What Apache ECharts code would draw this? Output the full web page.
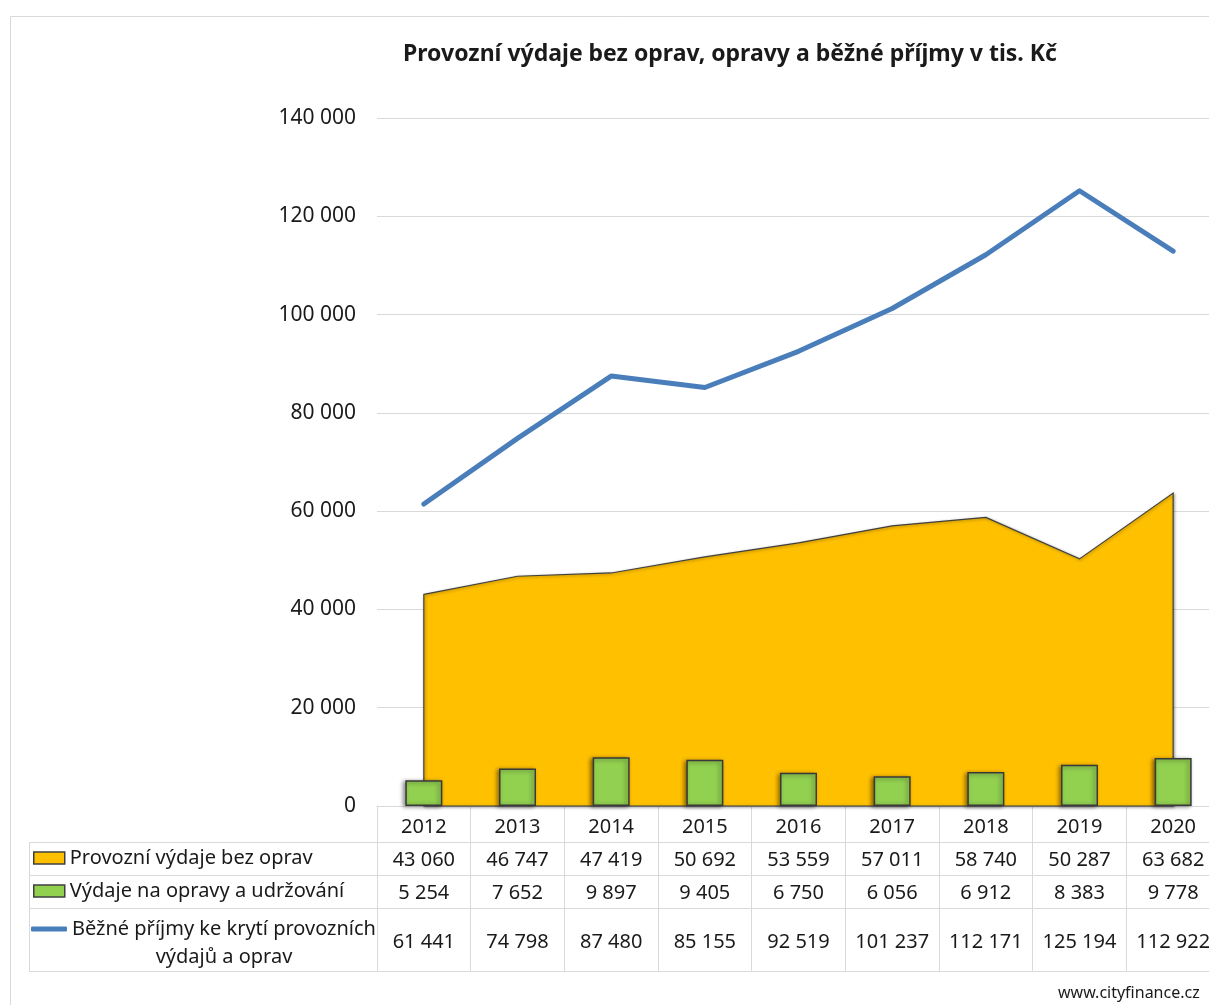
<!DOCTYPE html>
<html>
<head>
<meta charset="utf-8">
<title>Provozní výdaje</title>
<script src="https://cdn.jsdelivr.net/npm/echarts@6/dist/echarts.min.js"></script>
<style>
  html, body { margin: 0; padding: 0; background: #fff; overflow: hidden; }
  #chart { width: 1230px; height: 1005px; }
</style>
</head>
<body>
<div id="chart"></div>
<script>
// data (tis. Kč)
const years = ['2012', '2013', '2014', '2015', '2016', '2017', '2018', '2019', '2020']
const provozni = [43060, 46747, 47419, 50692, 53559, 57011, 58740, 50287, 63682]
const opravy = [5254, 7652, 9897, 9405, 6750, 6056, 6912, 8383, 9778]
const prijmy = [61441, 74798, 87480, 85155, 92519, 101237, 112171, 125194, 112922]

const nameProvozni = 'Provozní výdaje bez oprav'
const nameOpravy = 'Výdaje na opravy a udržování'
const namePrijmy = 'Běžné příjmy ke krytí provozních výdajů a oprav'

const FONT = 'Noto Sans'
const GRID_LINE = '#d9d9d9'
const TXT = '#1a1a1a'

// 43060 -> "43 060"
const fmt = (v) => String(v).replace(/\B(?=(\d{3})+(?!\d))/g, ' ')

// one extra category axis per table row, sharing the plot's columns
const rowAxis = (offset, margin, values) => ({
  type: 'category',
  data: years,
  gridIndex: 0,
  position: 'bottom',
  offset: offset,
  axisLine: {show: true, lineStyle: {color: GRID_LINE, width: 1}},
  axisTick: {show: false},
  axisLabel: {
    show: !!values,
    margin: margin,
    verticalAlign: 'middle',
    interval: 0,
    fontFamily: FONT,
    fontSize: 20,
    color: TXT,
    formatter: (val, idx) => values ? fmt(values[idx]) : ''
  }
})

const chart = echarts.init(document.getElementById('chart'))

const option = {
  backgroundColor: '#fff',
  animation: false,
  textStyle: {fontFamily: FONT},
  title: {
    text: 'Provozní výdaje bez oprav, opravy a běžné příjmy v tis. Kč',
    left: 398,
    top: 38,
    textStyle: {fontFamily: FONT, fontSize: 23, fontWeight: 'bold', color: TXT}
  },
  grid: {left: 377, top: 118, width: 843, height: 688, outerBoundsMode: 'none', containLabel: false},
  legend: [
    {
      data: [{name: nameProvozni, icon: 'rect', itemStyle: {color: '#FFC000', borderColor: '#404040', borderWidth: 1.5}}],
      left: 33, top: 848, padding: 0,
      itemWidth: 31, itemHeight: 12, itemGap: 4,
      textStyle: {fontSize: 20, color: TXT, fontFamily: FONT}
    },
    {
      data: [{name: nameOpravy, icon: 'rect', itemStyle: {color: '#92D050', borderColor: '#404040', borderWidth: 1.5}}],
      left: 33, top: 881, padding: 0,
      itemWidth: 31, itemHeight: 12, itemGap: 4,
      textStyle: {fontSize: 20, color: TXT, fontFamily: FONT}
    },
    {
      data: [{name: namePrijmy, icon: 'roundRect', itemStyle: {color: '#4A7EBB', borderWidth: 0}}],
      left: 31, top: 887, padding: 0,
      itemWidth: 36, itemHeight: 5, itemGap: 3,
      formatter: () => '{a|Běžné příjmy ke krytí provozních}\n{b|výdajů a oprav}',
      textStyle: {
        fontSize: 20, color: TXT, fontFamily: FONT, lineHeight: 28,
        padding: [28, 0, 0, 0],
        rich: {
          a: {fontSize: 20, color: TXT, fontFamily: FONT, lineHeight: 28},
          b: {fontSize: 20, color: TXT, fontFamily: FONT, lineHeight: 28, align: 'center'}
        }
      }
    }
  ],
  xAxis: [
    {
      type: 'category',
      data: years,
      position: 'bottom',
      axisLine: {show: true, lineStyle: {color: GRID_LINE, width: 1}},
      axisTick: {show: true, inside: false, length: 165, interval: 0, lineStyle: {color: GRID_LINE}},
      axisLabel: {margin: 21, verticalAlign: 'middle', fontFamily: FONT, fontSize: 20, color: TXT, interval: 0}
    },
    rowAxis(36, 18, provozni),
    rowAxis(69, 18, opravy),
    rowAxis(102, 34, prijmy),
    rowAxis(165, 0, null)
  ],
  yAxis: {
    type: 'value',
    min: 0,
    max: 140000,
    interval: 20000,
    axisLine: {show: false},
    axisTick: {show: false},
    splitLine: {lineStyle: {color: GRID_LINE, width: 1}},
    axisLabel: {
      margin: 21,
      fontFamily: FONT,
      fontSize: 21,
      color: TXT,
      formatter: (v) => fmt(v)
    }
  },
  series: [
    {
      name: nameProvozni,
      type: 'custom',
      z: 1,
      itemStyle: {color: '#FFC000', borderColor: '#404040'},
      data: [[0, 0]],
      renderItem: (params, api) => {
        const pts = provozni.map((v, i) => api.coord([i, v]))
        pts.push(api.coord([provozni.length - 1, 0]))
        pts.push(api.coord([0, 0]))
        return {
          type: 'polygon',
          shape: {points: pts},
          style: {
            fill: '#FFC000',
            stroke: '#404040',
            lineWidth: 1.2,
            shadowColor: 'rgba(0,0,0,0.35)',
            shadowBlur: 3,
            shadowOffsetX: 1,
            shadowOffsetY: 1
          }
        }
      }
    },
    {
      name: nameOpravy,
      type: 'bar',
      z: 2,
      barWidth: 37,
      data: opravy,
      itemStyle: {
        color: '#92D050',
        borderColor: '#3a3a3a',
        borderWidth: 1.5,
        shadowColor: 'rgba(0,0,0,0.45)',
        shadowBlur: 4,
        shadowOffsetX: -2,
        shadowOffsetY: 1
      }
    },
    {
      name: namePrijmy,
      type: 'line',
      z: 3,
      data: prijmy,
      symbol: 'none',
      showSymbol: false,
      color: '#4A7EBB',
      lineStyle: {color: '#4A7EBB', width: 5, cap: 'round', join: 'round'}
    }
  ],
  graphic: [
    // outer chart frame
    {type: 'rect', shape: {x: 10.5, y: 16.5, width: 1300, height: 1100}, style: {fill: null, stroke: GRID_LINE, lineWidth: 1}, silent: true, z: -10},
    // legend column of the data table
    {type: 'line', shape: {x1: 29, y1: 842.5, x2: 377, y2: 842.5}, style: {stroke: GRID_LINE, lineWidth: 1}},
    {type: 'line', shape: {x1: 29, y1: 875.5, x2: 377, y2: 875.5}, style: {stroke: GRID_LINE, lineWidth: 1}},
    {type: 'line', shape: {x1: 29, y1: 908.5, x2: 377, y2: 908.5}, style: {stroke: GRID_LINE, lineWidth: 1}},
    {type: 'line', shape: {x1: 29, y1: 971.5, x2: 377, y2: 971.5}, style: {stroke: GRID_LINE, lineWidth: 1}},
    {type: 'line', shape: {x1: 29.5, y1: 842, x2: 29.5, y2: 972}, style: {stroke: GRID_LINE, lineWidth: 1}},
    {
      type: 'text', left: 1058, top: 985,
      style: {text: 'www.cityfinance.cz', fontFamily: FONT, fontSize: 16, fill: TXT}
    }
  ]
}

chart.setOption(option)
</script>
</body>
</html>
